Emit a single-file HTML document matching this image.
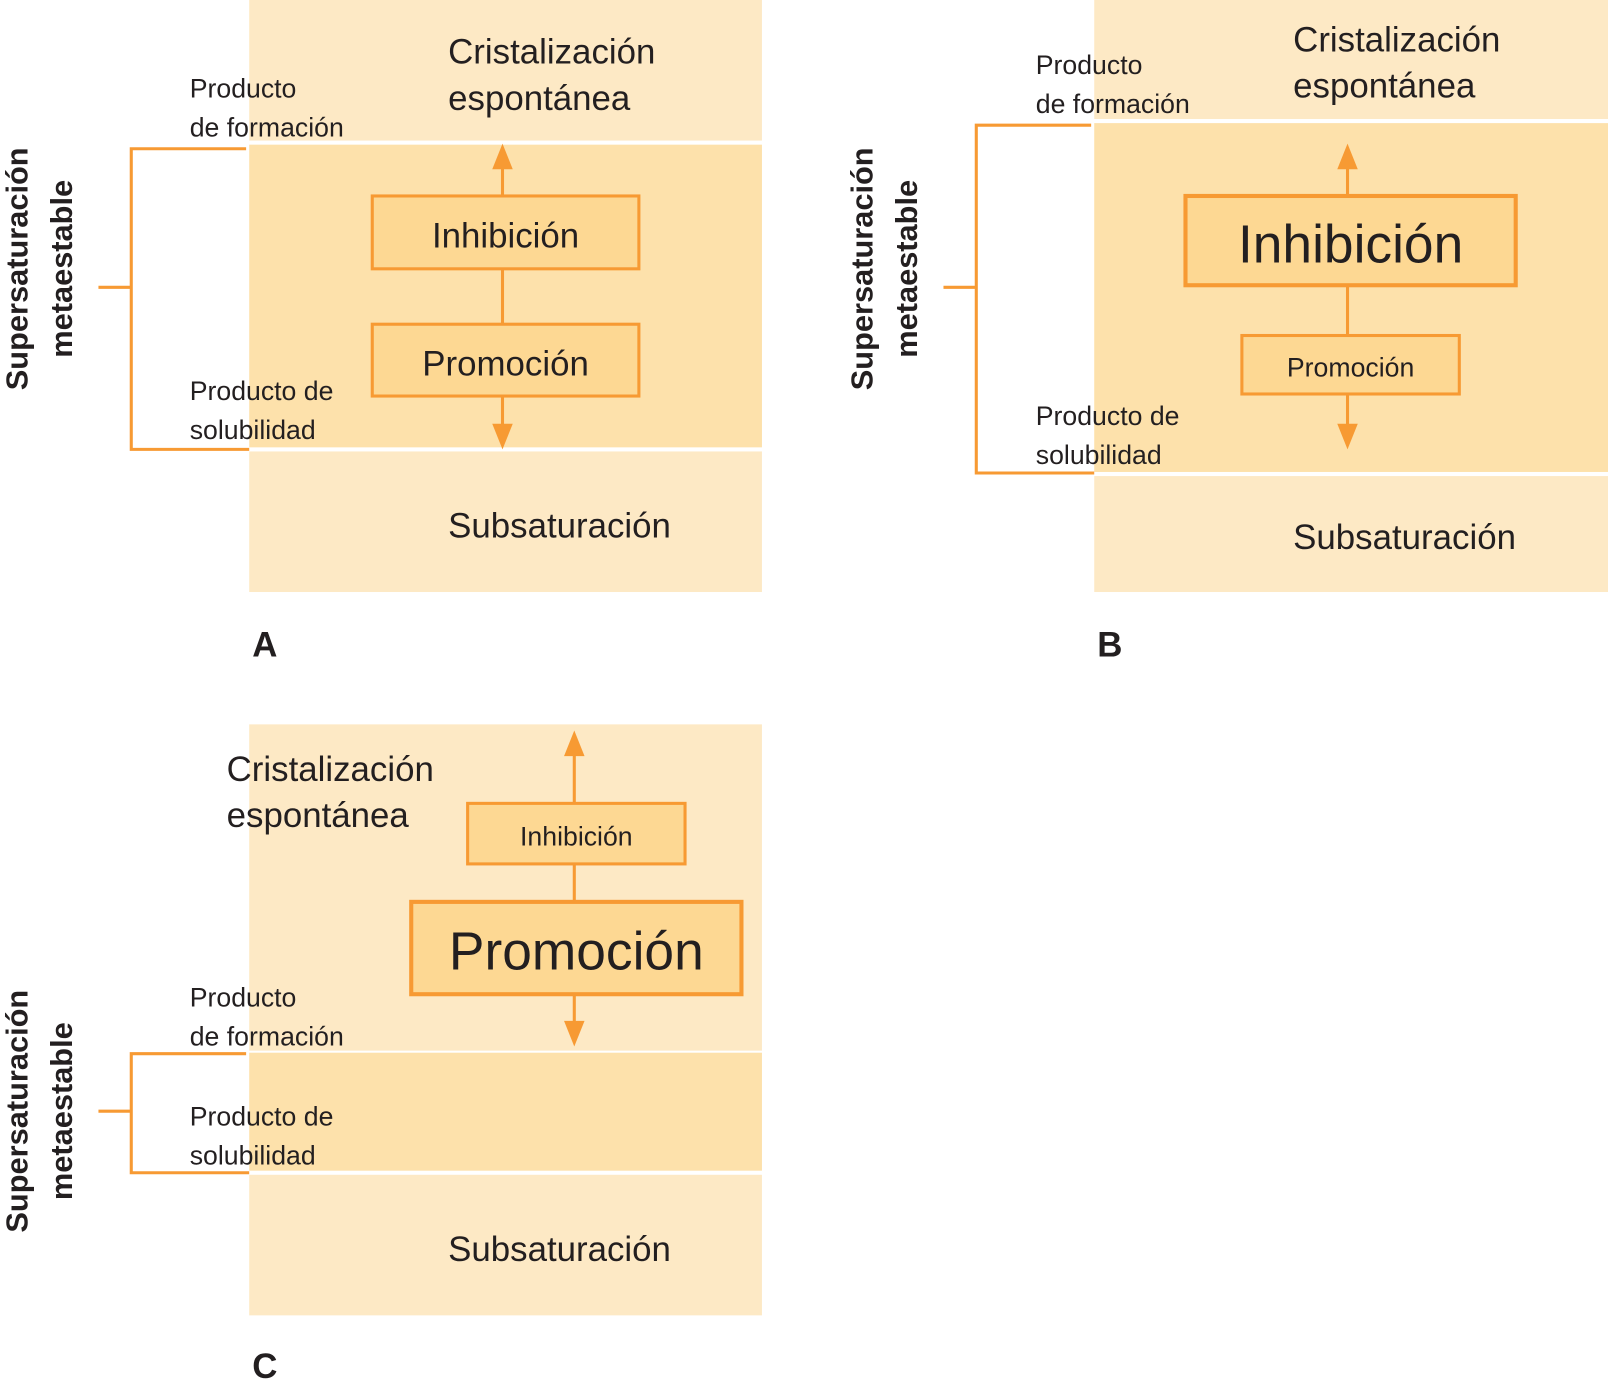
<!DOCTYPE html>
<html><head><meta charset="utf-8"><style>
html,body{margin:0;padding:0;background:#fff;}
svg{display:block;}
text{font-family:"Liberation Sans",sans-serif;fill:#231f20;}
.b{font-weight:bold;}
</style></head><body>
<svg width="1608" height="1380" viewBox="0 0 1568 1345" preserveAspectRatio="none" xmlns="http://www.w3.org/2000/svg">
<defs>
<marker id="m" viewBox="0 0 10 10" refX="10" refY="5" markerWidth="4" markerHeight="4" orient="auto"><path d="M0,0L10,5L0,10z" fill="#f79a33"/></marker>
</defs>
<g stroke="#f79a33" stroke-width="3" fill="none">
</g>
<!-- Panel A -->
<rect x="243" y="0" width="500" height="137" fill="#fde9c5"/>
<rect x="243" y="141" width="500" height="295" fill="#fde1ab"/>
<rect x="243" y="440" width="500" height="137" fill="#fde9c5"/>
<g stroke="#f79a33" stroke-width="3" fill="none">
<polyline points="240,145 128,145 128,438 243,438"/>
<line x1="96" y1="280" x2="128" y2="280"/>
<line x1="490" y1="160" x2="490" y2="191"/>
<line x1="490" y1="262" x2="490" y2="316"/>
<line x1="490" y1="386" x2="490" y2="418"/>
</g>
<path d="M480,165L490,140L500,165z" fill="#f79a33"/>
<path d="M480,413L490,438L500,413z" fill="#f79a33"/>
<rect x="363" y="191" width="260" height="71" fill="#fdd893" stroke="#f79a33" stroke-width="3"/>
<rect x="363" y="316" width="260" height="70" fill="#fdd893" stroke="#f79a33" stroke-width="3"/>
<text x="493" y="241" font-size="34" text-anchor="middle">Inhibición</text>
<text x="493" y="366" font-size="34" text-anchor="middle">Promoción</text>
<text x="437" y="62" font-size="34">Cristalización</text>
<text x="437" y="107" font-size="34">espontánea</text>
<text x="185" y="95" font-size="26">Producto</text>
<text x="185" y="133" font-size="26">de formación</text>
<text x="185" y="390" font-size="26">Producto de</text>
<text x="185" y="428" font-size="26">solubilidad</text>
<text x="437" y="524" font-size="34">Subsaturación</text>
<text x="246" y="640" font-size="34" class="b">A</text>
<text transform="translate(27,262) rotate(-90)" font-size="30" class="b" text-anchor="middle">Supersaturación</text>
<text transform="translate(70,262) rotate(-90)" font-size="30" class="b" text-anchor="middle">metaestable</text>

<!-- Panel B -->
<rect x="1067" y="0" width="501" height="116" fill="#fde9c5"/>
<rect x="1067" y="120" width="501" height="340" fill="#fde1ab"/>
<rect x="1067" y="464" width="501" height="113" fill="#fde9c5"/>
<g stroke="#f79a33" stroke-width="3" fill="none">
<polyline points="1064,122 952,122 952,461 1067,461"/>
<line x1="920" y1="280" x2="952" y2="280"/>
<line x1="1314" y1="160" x2="1314" y2="191"/>
<line x1="1314" y1="278" x2="1314" y2="327"/>
<line x1="1314" y1="384" x2="1314" y2="418"/>
</g>
<path d="M1304,165L1314,140L1324,165z" fill="#f79a33"/>
<path d="M1304,413L1314,438L1324,413z" fill="#f79a33"/>
<rect x="1156" y="191" width="322" height="87" fill="#fdd893" stroke="#f79a33" stroke-width="4"/>
<rect x="1211" y="327" width="212" height="57" fill="#fdd893" stroke="#f79a33" stroke-width="3"/>
<text x="1317" y="256" font-size="52" text-anchor="middle">Inhibición</text>
<text x="1317" y="367" font-size="26" text-anchor="middle">Promoción</text>
<text x="1261" y="50" font-size="34">Cristalización</text>
<text x="1261" y="95" font-size="34">espontánea</text>
<text x="1010" y="72" font-size="26">Producto</text>
<text x="1010" y="110" font-size="26">de formación</text>
<text x="1010" y="414" font-size="26">Producto de</text>
<text x="1010" y="452" font-size="26">solubilidad</text>
<text x="1261" y="535" font-size="34">Subsaturación</text>
<text x="1070" y="640" font-size="34" class="b">B</text>
<text transform="translate(851,262) rotate(-90)" font-size="30" class="b" text-anchor="middle">Supersaturación</text>
<text transform="translate(894,262) rotate(-90)" font-size="30" class="b" text-anchor="middle">metaestable</text>

<!-- Panel C -->
<rect x="243" y="706" width="500" height="318" fill="#fde9c5"/>
<rect x="243" y="1026" width="500" height="115" fill="#fde1ab"/>
<rect x="243" y="1145" width="500" height="137" fill="#fde9c5"/>
<g stroke="#f79a33" stroke-width="3" fill="none">
<polyline points="240,1027 128,1027 128,1143 243,1143"/>
<line x1="96" y1="1083" x2="128" y2="1083"/>
<line x1="560" y1="732" x2="560" y2="783"/>
<line x1="560" y1="842" x2="560" y2="879"/>
<line x1="560" y1="969" x2="560" y2="1000"/>
</g>
<path d="M550,737L560,712L570,737z" fill="#f79a33"/>
<path d="M550,995L560,1020L570,995z" fill="#f79a33"/>
<rect x="456" y="783" width="212" height="59" fill="#fdd893" stroke="#f79a33" stroke-width="3"/>
<rect x="401" y="879" width="322" height="90" fill="#fdd893" stroke="#f79a33" stroke-width="4"/>
<text x="562" y="824" font-size="26" text-anchor="middle">Inhibición</text>
<text x="562" y="945" font-size="52" text-anchor="middle">Promoción</text>
<text x="221" y="761" font-size="34">Cristalización</text>
<text x="221" y="806" font-size="34">espontánea</text>
<text x="185" y="981" font-size="26">Producto</text>
<text x="185" y="1019" font-size="26">de formación</text>
<text x="185" y="1097" font-size="26">Producto de</text>
<text x="185" y="1135" font-size="26">solubilidad</text>
<text x="437" y="1229" font-size="34">Subsaturación</text>
<text x="246" y="1343" font-size="34" class="b">C</text>
<text transform="translate(27,1083) rotate(-90)" font-size="30" class="b" text-anchor="middle">Supersaturación</text>
<text transform="translate(70,1083) rotate(-90)" font-size="30" class="b" text-anchor="middle">metaestable</text>
</svg>
</body></html>
